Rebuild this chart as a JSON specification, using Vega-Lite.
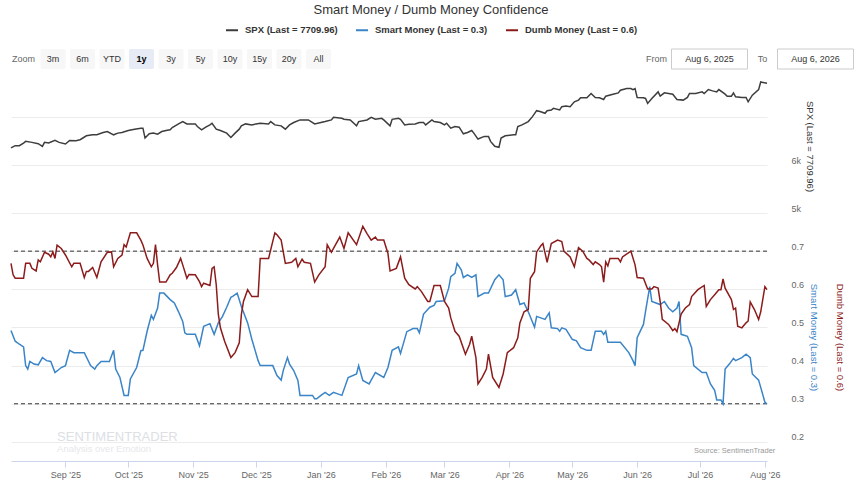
{
  "$schema": "https://vega.github.io/schema/vega-lite/v6.json",
  "background": "white",
  "padding": {"left": 8, "top": 4, "right": 2, "bottom": 2},
  "title": {"text": "Smart Money / Dumb Money Confidence", "fontSize": 13, "fontWeight": "normal", "color": "#333333", "anchor": "middle", "offset": 6},
  "config": {
    "font": "Liberation Sans",
    "view": {"stroke": null},
    "axis": {"labelColor": "#666666", "labelFontSize": 9, "titleFontWeight": "normal", "titleFontSize": 9.5, "gridColor": "#ececec", "domain": false, "ticks": false},
    "legend": {"layout": {"top": {"anchor": "middle"}}}
  },
  "datasets": {
    "spx": [
      {"d":"2025-08-06","v":6359},{"d":"2025-08-08","v":6407},{"d":"2025-08-10","v":6407},{"d":"2025-08-12","v":6462},{"d":"2025-08-13","v":6497},{"d":"2025-08-16","v":6476},{"d":"2025-08-19","v":6448},{"d":"2025-08-21","v":6393},{"d":"2025-08-22","v":6476},{"d":"2025-08-24","v":6462},{"d":"2025-08-27","v":6517},{"d":"2025-08-29","v":6476},
      {"d":"2025-09-01","v":6441},{"d":"2025-09-03","v":6517},{"d":"2025-09-06","v":6510},{"d":"2025-09-08","v":6531},{"d":"2025-09-11","v":6614},{"d":"2025-09-14","v":6634},{"d":"2025-09-16","v":6634},{"d":"2025-09-19","v":6683},{"d":"2025-09-21","v":6703},{"d":"2025-09-24","v":6634},{"d":"2025-09-26","v":6669},{"d":"2025-09-28","v":6683},
      {"d":"2025-10-01","v":6724},{"d":"2025-10-04","v":6752},{"d":"2025-10-07","v":6772},{"d":"2025-10-08","v":6772},{"d":"2025-10-09","v":6566},{"d":"2025-10-11","v":6655},{"d":"2025-10-13","v":6669},{"d":"2025-10-15","v":6648},{"d":"2025-10-17","v":6703},{"d":"2025-10-19","v":6724},{"d":"2025-10-21","v":6738},{"d":"2025-10-22","v":6786},{"d":"2025-10-25","v":6862},{"d":"2025-10-27","v":6910},{"d":"2025-10-29","v":6862},{"d":"2025-10-31","v":6862},
      {"d":"2025-11-02","v":6862},{"d":"2025-11-03","v":6807},{"d":"2025-11-05","v":6738},{"d":"2025-11-07","v":6793},{"d":"2025-11-09","v":6841},{"d":"2025-11-10","v":6876},{"d":"2025-11-12","v":6752},{"d":"2025-11-14","v":6724},{"d":"2025-11-17","v":6669},{"d":"2025-11-19","v":6579},{"d":"2025-11-21","v":6669},{"d":"2025-11-23","v":6752},{"d":"2025-11-24","v":6821},{"d":"2025-11-26","v":6862},{"d":"2025-11-29","v":6841},
      {"d":"2025-12-01","v":6862},{"d":"2025-12-03","v":6876},{"d":"2025-12-07","v":6862},{"d":"2025-12-08","v":6910},{"d":"2025-12-10","v":6841},{"d":"2025-12-13","v":6821},{"d":"2025-12-15","v":6752},{"d":"2025-12-17","v":6841},{"d":"2025-12-19","v":6890},{"d":"2025-12-22","v":6945},{"d":"2025-12-26","v":6945},{"d":"2025-12-29","v":6862},
      {"d":"2026-01-01","v":6890},{"d":"2026-01-03","v":6910},{"d":"2026-01-06","v":6945},{"d":"2026-01-07","v":7000},{"d":"2026-01-11","v":6979},{"d":"2026-01-12","v":6958},{"d":"2026-01-15","v":6945},{"d":"2026-01-18","v":6821},{"d":"2026-01-19","v":6910},{"d":"2026-01-23","v":6945},{"d":"2026-01-25","v":7000},{"d":"2026-01-27","v":6958},{"d":"2026-01-30","v":6979},{"d":"2026-01-31","v":6945},
      {"d":"2026-02-03","v":6821},{"d":"2026-02-04","v":6958},{"d":"2026-02-07","v":6979},{"d":"2026-02-08","v":6958},{"d":"2026-02-10","v":6841},{"d":"2026-02-12","v":6855},{"d":"2026-02-15","v":6862},{"d":"2026-02-17","v":6890},{"d":"2026-02-19","v":6890},{"d":"2026-02-20","v":6841},{"d":"2026-02-23","v":6945},{"d":"2026-02-24","v":6910},{"d":"2026-02-27","v":6890},
      {"d":"2026-03-01","v":6841},{"d":"2026-03-02","v":6876},{"d":"2026-03-04","v":6772},{"d":"2026-03-06","v":6807},{"d":"2026-03-08","v":6793},{"d":"2026-03-10","v":6655},{"d":"2026-03-12","v":6683},{"d":"2026-03-14","v":6724},{"d":"2026-03-15","v":6669},{"d":"2026-03-17","v":6545},{"d":"2026-03-20","v":6600},{"d":"2026-03-22","v":6600},{"d":"2026-03-23","v":6497},{"d":"2026-03-25","v":6393},{"d":"2026-03-27","v":6372},{"d":"2026-03-28","v":6566},{"d":"2026-03-30","v":6614},
      {"d":"2026-04-03","v":6634},{"d":"2026-04-04","v":6634},{"d":"2026-04-05","v":6807},{"d":"2026-04-07","v":6841},{"d":"2026-04-10","v":6910},{"d":"2026-04-12","v":7014},{"d":"2026-04-14","v":7138},{"d":"2026-04-16","v":7117},{"d":"2026-04-18","v":7083},{"d":"2026-04-19","v":7138},{"d":"2026-04-21","v":7152},{"d":"2026-04-22","v":7186},{"d":"2026-04-25","v":7152},{"d":"2026-04-26","v":7221},{"d":"2026-04-28","v":7234},{"d":"2026-04-30","v":7221},
      {"d":"2026-05-02","v":7324},{"d":"2026-05-04","v":7359},{"d":"2026-05-05","v":7407},{"d":"2026-05-08","v":7407},{"d":"2026-05-10","v":7497},{"d":"2026-05-12","v":7414},{"d":"2026-05-14","v":7407},{"d":"2026-05-16","v":7372},{"d":"2026-05-17","v":7441},{"d":"2026-05-20","v":7476},{"d":"2026-05-23","v":7510},{"d":"2026-05-24","v":7566},{"d":"2026-05-27","v":7600},{"d":"2026-05-29","v":7600},{"d":"2026-05-30","v":7579},{"d":"2026-05-31","v":7600},
      {"d":"2026-06-01","v":7414},{"d":"2026-06-04","v":7407},{"d":"2026-06-05","v":7393},{"d":"2026-06-06","v":7290},{"d":"2026-06-08","v":7393},{"d":"2026-06-11","v":7531},{"d":"2026-06-12","v":7441},{"d":"2026-06-14","v":7510},{"d":"2026-06-16","v":7497},{"d":"2026-06-18","v":7483},{"d":"2026-06-20","v":7372},{"d":"2026-06-23","v":7359},{"d":"2026-06-25","v":7414},{"d":"2026-06-26","v":7497},{"d":"2026-06-29","v":7497},
      {"d":"2026-07-02","v":7531},{"d":"2026-07-03","v":7497},{"d":"2026-07-05","v":7579},{"d":"2026-07-07","v":7552},{"d":"2026-07-09","v":7531},{"d":"2026-07-10","v":7579},{"d":"2026-07-13","v":7483},{"d":"2026-07-14","v":7441},{"d":"2026-07-16","v":7441},{"d":"2026-07-17","v":7510},{"d":"2026-07-18","v":7428},{"d":"2026-07-21","v":7414},{"d":"2026-07-23","v":7414},{"d":"2026-07-24","v":7324},{"d":"2026-07-26","v":7462},{"d":"2026-07-29","v":7579},{"d":"2026-07-30","v":7738},{"d":"2026-08-02","v":7710}
    ],
    "smart": [
      {"d":"2025-08-06","v":0.492},{"d":"2025-08-08","v":0.464},{"d":"2025-08-10","v":0.456},{"d":"2025-08-12","v":0.449},{"d":"2025-08-13","v":0.400},{"d":"2025-08-14","v":0.391},{"d":"2025-08-15","v":0.411},{"d":"2025-08-17","v":0.404},{"d":"2025-08-19","v":0.402},{"d":"2025-08-21","v":0.421},{"d":"2025-08-23","v":0.413},{"d":"2025-08-25","v":0.411},{"d":"2025-08-27","v":0.382},{"d":"2025-08-28","v":0.386},{"d":"2025-08-30","v":0.395},
      {"d":"2025-09-01","v":0.400},{"d":"2025-09-03","v":0.440},{"d":"2025-09-05","v":0.434},{"d":"2025-09-10","v":0.434},{"d":"2025-09-13","v":0.400},{"d":"2025-09-15","v":0.391},{"d":"2025-09-16","v":0.400},{"d":"2025-09-18","v":0.411},{"d":"2025-09-22","v":0.411},{"d":"2025-09-24","v":0.440},{"d":"2025-09-25","v":0.391},{"d":"2025-09-27","v":0.369},{"d":"2025-09-29","v":0.322},
      {"d":"2025-10-01","v":0.322},{"d":"2025-10-02","v":0.365},{"d":"2025-10-05","v":0.395},{"d":"2025-10-07","v":0.439},{"d":"2025-10-08","v":0.440},{"d":"2025-10-10","v":0.490},{"d":"2025-10-12","v":0.532},{"d":"2025-10-13","v":0.521},{"d":"2025-10-15","v":0.551},{"d":"2025-10-16","v":0.590},{"d":"2025-10-18","v":0.590},{"d":"2025-10-21","v":0.573},{"d":"2025-10-23","v":0.564},{"d":"2025-10-25","v":0.541},{"d":"2025-10-27","v":0.516},{"d":"2025-10-28","v":0.486},{"d":"2025-10-29","v":0.482},
      {"d":"2025-11-02","v":0.482},{"d":"2025-11-04","v":0.452},{"d":"2025-11-06","v":0.503},{"d":"2025-11-09","v":0.510},{"d":"2025-11-11","v":0.482},{"d":"2025-11-13","v":0.512},{"d":"2025-11-15","v":0.529},{"d":"2025-11-17","v":0.553},{"d":"2025-11-19","v":0.579},{"d":"2025-11-20","v":0.582},{"d":"2025-11-22","v":0.590},{"d":"2025-11-24","v":0.555},{"d":"2025-11-27","v":0.512},{"d":"2025-11-29","v":0.469},
      {"d":"2025-12-02","v":0.413},{"d":"2025-12-03","v":0.400},{"d":"2025-12-09","v":0.400},{"d":"2025-12-11","v":0.374},{"d":"2025-12-13","v":0.362},{"d":"2025-12-14","v":0.387},{"d":"2025-12-16","v":0.421},{"d":"2025-12-17","v":0.404},{"d":"2025-12-19","v":0.387},{"d":"2025-12-21","v":0.361},{"d":"2025-12-22","v":0.322},{"d":"2025-12-28","v":0.322},{"d":"2025-12-29","v":0.313},{"d":"2025-12-30","v":0.313},
      {"d":"2026-01-01","v":0.322},{"d":"2026-01-03","v":0.330},{"d":"2026-01-05","v":0.322},{"d":"2026-01-07","v":0.330},{"d":"2026-01-09","v":0.326},{"d":"2026-01-11","v":0.322},{"d":"2026-01-14","v":0.369},{"d":"2026-01-18","v":0.378},{"d":"2026-01-19","v":0.400},{"d":"2026-01-21","v":0.361},{"d":"2026-01-24","v":0.352},{"d":"2026-01-27","v":0.382},{"d":"2026-01-31","v":0.369},
      {"d":"2026-02-02","v":0.395},{"d":"2026-02-04","v":0.440},{"d":"2026-02-07","v":0.449},{"d":"2026-02-08","v":0.432},{"d":"2026-02-11","v":0.489},{"d":"2026-02-14","v":0.497},{"d":"2026-02-16","v":0.497},{"d":"2026-02-17","v":0.486},{"d":"2026-02-19","v":0.535},{"d":"2026-02-22","v":0.553},{"d":"2026-02-24","v":0.558},{"d":"2026-02-25","v":0.568},
      {"d":"2026-03-01","v":0.570},{"d":"2026-03-03","v":0.603},{"d":"2026-03-04","v":0.633},{"d":"2026-03-06","v":0.642},{"d":"2026-03-07","v":0.668},{"d":"2026-03-09","v":0.651},{"d":"2026-03-10","v":0.631},{"d":"2026-03-12","v":0.638},{"d":"2026-03-14","v":0.631},{"d":"2026-03-16","v":0.638},{"d":"2026-03-17","v":0.581},{"d":"2026-03-20","v":0.590},{"d":"2026-03-22","v":0.590},{"d":"2026-03-25","v":0.625},{"d":"2026-03-27","v":0.638},{"d":"2026-03-29","v":0.625},{"d":"2026-03-30","v":0.581},
      {"d":"2026-04-02","v":0.585},{"d":"2026-04-04","v":0.599},{"d":"2026-04-06","v":0.560},{"d":"2026-04-08","v":0.564},{"d":"2026-04-10","v":0.541},{"d":"2026-04-13","v":0.501},{"d":"2026-04-14","v":0.529},{"d":"2026-04-18","v":0.521},{"d":"2026-04-20","v":0.538},{"d":"2026-04-21","v":0.499},{"d":"2026-04-24","v":0.497},{"d":"2026-04-25","v":0.490},{"d":"2026-04-26","v":0.499},{"d":"2026-04-28","v":0.495},
      {"d":"2026-05-01","v":0.469},{"d":"2026-05-03","v":0.465},{"d":"2026-05-05","v":0.447},{"d":"2026-05-08","v":0.440},{"d":"2026-05-10","v":0.440},{"d":"2026-05-12","v":0.490},{"d":"2026-05-15","v":0.490},{"d":"2026-05-16","v":0.482},{"d":"2026-05-17","v":0.490},{"d":"2026-05-18","v":0.461},{"d":"2026-05-24","v":0.461},{"d":"2026-05-28","v":0.434},{"d":"2026-05-30","v":0.413},{"d":"2026-05-31","v":0.400},
      {"d":"2026-06-01","v":0.473},{"d":"2026-06-04","v":0.508},{"d":"2026-06-05","v":0.542},{"d":"2026-06-07","v":0.607},{"d":"2026-06-08","v":0.568},{"d":"2026-06-12","v":0.560},{"d":"2026-06-14","v":0.568},{"d":"2026-06-16","v":0.551},{"d":"2026-06-18","v":0.541},{"d":"2026-06-20","v":0.551},{"d":"2026-06-21","v":0.568},{"d":"2026-06-22","v":0.482},{"d":"2026-06-25","v":0.477},{"d":"2026-06-27","v":0.447},{"d":"2026-06-28","v":0.400},
      {"d":"2026-07-02","v":0.382},{"d":"2026-07-04","v":0.382},{"d":"2026-07-06","v":0.352},{"d":"2026-07-08","v":0.335},{"d":"2026-07-09","v":0.310},{"d":"2026-07-11","v":0.310},{"d":"2026-07-12","v":0.300},{"d":"2026-07-13","v":0.391},{"d":"2026-07-15","v":0.404},{"d":"2026-07-17","v":0.419},{"d":"2026-07-18","v":0.413},{"d":"2026-07-21","v":0.421},{"d":"2026-07-23","v":0.430},{"d":"2026-07-25","v":0.421},{"d":"2026-07-26","v":0.378},{"d":"2026-07-29","v":0.362},{"d":"2026-07-30","v":0.343},{"d":"2026-08-01","v":0.304},{"d":"2026-08-02","v":0.300}
    ],
    "dumb": [
      {"d":"2025-08-06","v":0.668},{"d":"2025-08-07","v":0.638},{"d":"2025-08-08","v":0.629},{"d":"2025-08-12","v":0.629},{"d":"2025-08-13","v":0.668},{"d":"2025-08-15","v":0.668},{"d":"2025-08-16","v":0.655},{"d":"2025-08-18","v":0.648},{"d":"2025-08-19","v":0.677},{"d":"2025-08-20","v":0.672},{"d":"2025-08-22","v":0.697},{"d":"2025-08-24","v":0.692},{"d":"2025-08-25","v":0.685},{"d":"2025-08-26","v":0.698},{"d":"2025-08-27","v":0.681},{"d":"2025-08-28","v":0.716},{"d":"2025-08-30","v":0.707},
      {"d":"2025-09-01","v":0.690},{"d":"2025-09-04","v":0.659},{"d":"2025-09-05","v":0.668},{"d":"2025-09-08","v":0.668},{"d":"2025-09-10","v":0.631},{"d":"2025-09-11","v":0.647},{"d":"2025-09-12","v":0.647},{"d":"2025-09-14","v":0.657},{"d":"2025-09-16","v":0.631},{"d":"2025-09-18","v":0.672},{"d":"2025-09-21","v":0.697},{"d":"2025-09-23","v":0.698},{"d":"2025-09-24","v":0.659},{"d":"2025-09-26","v":0.681},{"d":"2025-09-28","v":0.690},{"d":"2025-09-29","v":0.717},{"d":"2025-09-30","v":0.711},
      {"d":"2025-10-02","v":0.748},{"d":"2025-10-05","v":0.748},{"d":"2025-10-07","v":0.729},{"d":"2025-10-08","v":0.716},{"d":"2025-10-10","v":0.681},{"d":"2025-10-12","v":0.659},{"d":"2025-10-13","v":0.668},{"d":"2025-10-14","v":0.717},{"d":"2025-10-15","v":0.664},{"d":"2025-10-16","v":0.619},{"d":"2025-10-19","v":0.619},{"d":"2025-10-21","v":0.638},{"d":"2025-10-22","v":0.642},{"d":"2025-10-24","v":0.657},{"d":"2025-10-26","v":0.681},{"d":"2025-10-27","v":0.664},{"d":"2025-10-29","v":0.629},{"d":"2025-10-30","v":0.639},
      {"d":"2025-11-02","v":0.638},{"d":"2025-11-04","v":0.620},{"d":"2025-11-05","v":0.607},{"d":"2025-11-06","v":0.616},{"d":"2025-11-09","v":0.610},{"d":"2025-11-10","v":0.655},{"d":"2025-11-11","v":0.659},{"d":"2025-11-12","v":0.612},{"d":"2025-11-13","v":0.534},{"d":"2025-11-14","v":0.499},{"d":"2025-11-16","v":0.464},{"d":"2025-11-19","v":0.421},{"d":"2025-11-21","v":0.434},{"d":"2025-11-23","v":0.460},{"d":"2025-11-24","v":0.534},{"d":"2025-11-25","v":0.568},{"d":"2025-11-27","v":0.599},{"d":"2025-11-29","v":0.581},
      {"d":"2025-12-02","v":0.581},{"d":"2025-12-03","v":0.681},{"d":"2025-12-07","v":0.681},{"d":"2025-12-10","v":0.748},{"d":"2025-12-11","v":0.743},{"d":"2025-12-13","v":0.729},{"d":"2025-12-15","v":0.668},{"d":"2025-12-18","v":0.671},{"d":"2025-12-20","v":0.681},{"d":"2025-12-21","v":0.659},{"d":"2025-12-23","v":0.679},{"d":"2025-12-24","v":0.671},{"d":"2025-12-27","v":0.668},{"d":"2025-12-29","v":0.619},{"d":"2025-12-31","v":0.638},
      {"d":"2026-01-03","v":0.659},{"d":"2026-01-04","v":0.717},{"d":"2026-01-06","v":0.697},{"d":"2026-01-07","v":0.707},{"d":"2026-01-10","v":0.737},{"d":"2026-01-12","v":0.707},{"d":"2026-01-14","v":0.748},{"d":"2026-01-18","v":0.717},{"d":"2026-01-21","v":0.765},{"d":"2026-01-23","v":0.746},{"d":"2026-01-25","v":0.729},{"d":"2026-01-27","v":0.737},{"d":"2026-01-28","v":0.729},{"d":"2026-01-31","v":0.729},
      {"d":"2026-02-02","v":0.694},{"d":"2026-02-03","v":0.648},{"d":"2026-02-06","v":0.655},{"d":"2026-02-08","v":0.685},{"d":"2026-02-10","v":0.629},{"d":"2026-02-12","v":0.612},{"d":"2026-02-15","v":0.601},{"d":"2026-02-16","v":0.607},{"d":"2026-02-18","v":0.594},{"d":"2026-02-21","v":0.568},{"d":"2026-02-22","v":0.568},{"d":"2026-02-24","v":0.610},{"d":"2026-02-27","v":0.610},
      {"d":"2026-03-01","v":0.568},{"d":"2026-03-03","v":0.551},{"d":"2026-03-04","v":0.525},{"d":"2026-03-06","v":0.490},{"d":"2026-03-08","v":0.477},{"d":"2026-03-11","v":0.430},{"d":"2026-03-13","v":0.456},{"d":"2026-03-14","v":0.477},{"d":"2026-03-16","v":0.421},{"d":"2026-03-17","v":0.352},{"d":"2026-03-19","v":0.369},{"d":"2026-03-21","v":0.391},{"d":"2026-03-22","v":0.430},{"d":"2026-03-24","v":0.369},{"d":"2026-03-27","v":0.343},{"d":"2026-03-29","v":0.378},{"d":"2026-03-31","v":0.434},
      {"d":"2026-04-03","v":0.447},{"d":"2026-04-05","v":0.473},{"d":"2026-04-06","v":0.512},{"d":"2026-04-08","v":0.541},{"d":"2026-04-10","v":0.547},{"d":"2026-04-11","v":0.629},{"d":"2026-04-13","v":0.646},{"d":"2026-04-14","v":0.698},{"d":"2026-04-16","v":0.714},{"d":"2026-04-17","v":0.720},{"d":"2026-04-19","v":0.671},{"d":"2026-04-21","v":0.720},{"d":"2026-04-24","v":0.729},{"d":"2026-04-26","v":0.725},{"d":"2026-04-27","v":0.700},{"d":"2026-04-30","v":0.685},
      {"d":"2026-05-02","v":0.659},{"d":"2026-05-04","v":0.709},{"d":"2026-05-06","v":0.700},{"d":"2026-05-08","v":0.681},{"d":"2026-05-09","v":0.677},{"d":"2026-05-11","v":0.665},{"d":"2026-05-12","v":0.672},{"d":"2026-05-14","v":0.665},{"d":"2026-05-15","v":0.659},{"d":"2026-05-16","v":0.619},{"d":"2026-05-17","v":0.672},{"d":"2026-05-18","v":0.661},{"d":"2026-05-19","v":0.681},{"d":"2026-05-23","v":0.681},{"d":"2026-05-24","v":0.672},{"d":"2026-05-25","v":0.685},{"d":"2026-05-29","v":0.700},{"d":"2026-05-31","v":0.664},
      {"d":"2026-06-01","v":0.631},{"d":"2026-06-04","v":0.629},{"d":"2026-06-06","v":0.601},{"d":"2026-06-08","v":0.601},{"d":"2026-06-09","v":0.607},{"d":"2026-06-11","v":0.603},{"d":"2026-06-12","v":0.568},{"d":"2026-06-13","v":0.521},{"d":"2026-06-16","v":0.508},{"d":"2026-06-18","v":0.492},{"d":"2026-06-19","v":0.497},{"d":"2026-06-20","v":0.489},{"d":"2026-06-22","v":0.535},{"d":"2026-06-24","v":0.551},{"d":"2026-06-26","v":0.560},{"d":"2026-06-27","v":0.581},{"d":"2026-06-30","v":0.599},
      {"d":"2026-07-03","v":0.610},{"d":"2026-07-04","v":0.555},{"d":"2026-07-06","v":0.573},{"d":"2026-07-08","v":0.586},{"d":"2026-07-10","v":0.599},{"d":"2026-07-11","v":0.599},{"d":"2026-07-12","v":0.627},{"d":"2026-07-13","v":0.603},{"d":"2026-07-16","v":0.573},{"d":"2026-07-17","v":0.547},{"d":"2026-07-18","v":0.551},{"d":"2026-07-19","v":0.503},{"d":"2026-07-21","v":0.499},{"d":"2026-07-23","v":0.512},{"d":"2026-07-24","v":0.517},{"d":"2026-07-25","v":0.567},{"d":"2026-07-27","v":0.547},{"d":"2026-07-29","v":0.521},{"d":"2026-07-30","v":0.541},{"d":"2026-08-01","v":0.607},{"d":"2026-08-02","v":0.599}
    ]
  },
  "vconcat": [
    {
      "hconcat": [
        {
          "width": 320,
          "height": 20,
          "data": {"values": [{"b":"Zoom","on":false},{"b":"3m","on":false},{"b":"6m","on":false},{"b":"YTD","on":false},{"b":"1y","on":true},{"b":"3y","on":false},{"b":"5y","on":false},{"b":"10y","on":false},{"b":"15y","on":false},{"b":"20y","on":false},{"b":"All","on":false}]},
          "encoding": {"x": {"field": "b", "type": "nominal", "axis": null, "scale": {"domain": ["Zoom","3m","6m","YTD","1y","3y","5y","10y","15y","20y","All"], "paddingInner": 0.15, "paddingOuter": 0}}},
          "layer": [
            {"transform": [{"filter": "datum.b != 'Zoom'"}], "mark": {"type": "rect", "cornerRadius": 2}, "encoding": {"color": {"condition": {"test": "datum.on", "value": "#e6ebf5"}, "value": "#f7f7f7"}}},
            {"transform": [{"filter": "!datum.on"}], "mark": {"type": "text", "fontSize": 9}, "encoding": {"text": {"field": "b"}, "color": {"condition": {"test": "datum.b == 'Zoom'", "value": "#666666"}, "value": "#333333"}}},
            {"transform": [{"filter": "datum.on"}], "mark": {"type": "text", "fontSize": 9, "fontWeight": "bold", "color": "#000000"}, "encoding": {"text": {"field": "b"}}}
          ]
        },
        {
          "width": 212,
          "height": 20,
          "data": {"values": [{"b":"From","k":"label"},{"b":"Aug 6, 2025","k":"box"},{"b":"To","k":"label"},{"b":"Aug 6, 2026","k":"box"}]},
          "encoding": {"x": {"field": "b", "type": "nominal", "axis": null, "scale": {"domain": ["From","Aug 6, 2025","To","Aug 6, 2026"], "paddingInner": 0, "paddingOuter": 0}}},
          "layer": [
            {"transform": [{"filter": "datum.k == 'box'"}], "mark": {"type": "rect", "width": 76, "fill": "white", "stroke": "#cccccc", "strokeWidth": 1}},
            {"mark": {"type": "text", "fontSize": 9}, "encoding": {"text": {"field": "b"}, "color": {"condition": {"test": "datum.k == 'label'", "value": "#666666"}, "value": "#333333"}}}
          ]
        }
      ],
      "spacing": 299
    },
    {
      "vconcat": [
        {
          "width": 756,
          "height": 134,
          "data": {"name": "spx", "format": {"parse": {"d": "date:'%Y-%m-%d'"}}},
          "mark": {"type": "line", "strokeWidth": 1.5},
          "encoding": {
            "x": {"field": "d", "type": "temporal", "axis": null, "scale": {"domain": [{"year": 2025, "month": 8, "date": 6}, {"year": 2026, "month": 8, "date": 2}]}},
            "y": {"field": "v", "type": "quantitative", "scale": {"domain": [5000, 7800], "nice": false, "zero": false},
                  "axis": {"orient": "right", "values": [5000, 6000, 7000], "grid": true, "labelExpr": "datum.value == 7000 ? '' : (datum.value / 1000) + 'k'", "labelPadding": 24, "labelBaseline": "bottom", "title": "SPX (Last = 7709.96)", "titleColor": "#333333", "titlePadding": 4}},
            "color": {"datum": "SPX (Last = 7709.96)", "type": "nominal",
                      "scale": {"domain": ["SPX (Last = 7709.96)", "Smart Money (Last = 0.3)", "Dumb Money (Last = 0.6)"], "range": ["#3d3d3d", "#3a84c8", "#8c1c1c"]},
                      "legend": {"orient": "top", "direction": "horizontal", "title": null, "symbolType": "stroke", "symbolStrokeWidth": 2, "symbolSize": 144, "labelFontWeight": "bold", "labelFontSize": 9.5, "labelColor": "#333333", "columnPadding": 14, "labelOffset": 6, "offset": 13}}
          }
        },
        {
          "width": 756,
          "height": 248,
          "layer": [
            {
              "data": {"values": [{"lv": 0.7}, {"lv": 0.3}]},
              "mark": {"type": "rule", "strokeDash": [4, 3], "color": "#333333", "strokeWidth": 1},
              "encoding": {"y": {"field": "lv", "type": "quantitative", "scale": {"domain": [0.15, 0.8], "nice": false, "zero": false}, "axis": null}}
            },
            {
              "data": {"name": "smart", "format": {"parse": {"d": "date:'%Y-%m-%d'"}}},
              "mark": {"type": "line", "strokeWidth": 1.5},
              "encoding": {
                "x": {"field": "d", "type": "temporal", "scale": {"domain": [{"year": 2025, "month": 8, "date": 6}, {"year": 2026, "month": 8, "date": 2}]},
                      "axis": {"format": "%b '%y", "tickCount": {"interval": "month", "step": 1}, "title": null, "grid": false, "domain": true, "domainColor": "#ccd6eb", "ticks": true, "tickColor": "#ccd6eb", "tickSize": 6, "labelPadding": 3, "labelFlush": false}},
                "y": {"field": "v", "type": "quantitative", "scale": {"domain": [0.15, 0.8], "nice": false, "zero": false},
                      "axis": {"orient": "right", "values": [0.2, 0.3, 0.4, 0.5, 0.6, 0.7], "format": ".1f", "grid": true, "labelPadding": 24, "labelBaseline": "bottom", "title": "Smart Money (Last = 0.3)", "titleColor": "#3a84c8", "titlePadding": 5}},
                "color": {"datum": "Smart Money (Last = 0.3)", "type": "nominal"}
              }
            },
            {
              "data": {"name": "dumb", "format": {"parse": {"d": "date:'%Y-%m-%d'"}}},
              "mark": {"type": "line", "strokeWidth": 1.5},
              "encoding": {
                "x": {"field": "d", "type": "temporal"},
                "y": {"field": "v", "type": "quantitative", "scale": {"domain": [0.15, 0.8], "nice": false, "zero": false},
                      "axis": {"orient": "right", "labels": false, "grid": false, "title": "Dumb Money (Last = 0.6)", "titleColor": "#8c1c1c", "titlePadding": 67}},
                "color": {"datum": "Dumb Money (Last = 0.6)", "type": "nominal"}
              }
            },
            {
              "data": {"values": [{"d": "2025-08-28", "v": 0.213, "t": "SENTIMENTRADER", "k": "a"}, {"d": "2025-08-28", "v": 0.181, "t": "Analysis over Emotion", "k": "b"}], "format": {"parse": {"d": "date:'%Y-%m-%d'"}}},
              "mark": {"type": "text", "align": "left", "baseline": "middle"},
              "encoding": {
                "x": {"field": "d", "type": "temporal"},
                "y": {"field": "v", "type": "quantitative", "scale": {"domain": [0.15, 0.8], "nice": false, "zero": false}, "axis": null},
                "text": {"field": "t"},
                "size": {"condition": {"test": "datum.k == 'a'", "value": 13}, "value": 9.5},
                "color": {"condition": {"test": "datum.k == 'a'", "value": "#dce0e5"}, "value": "#e6e8ea"}
              }
            },
            {
              "data": {"values": [{"d": "2026-08-06", "v": 0.176, "t": "Source: SentimenTrader"}], "format": {"parse": {"d": "date:'%Y-%m-%d'"}}},
              "mark": {"type": "text", "align": "right", "baseline": "middle", "fontSize": 7.5, "color": "#999999"},
              "encoding": {
                "x": {"field": "d", "type": "temporal"},
                "y": {"field": "v", "type": "quantitative", "scale": {"domain": [0.15, 0.8], "nice": false, "zero": false}, "axis": null},
                "text": {"field": "t"}
              }
            }
          ],
          "resolve": {"scale": {"y": "independent"}}
        }
      ],
      "spacing": 0,
      "bounds": "flush"
    }
  ],
  "spacing": 8
}
